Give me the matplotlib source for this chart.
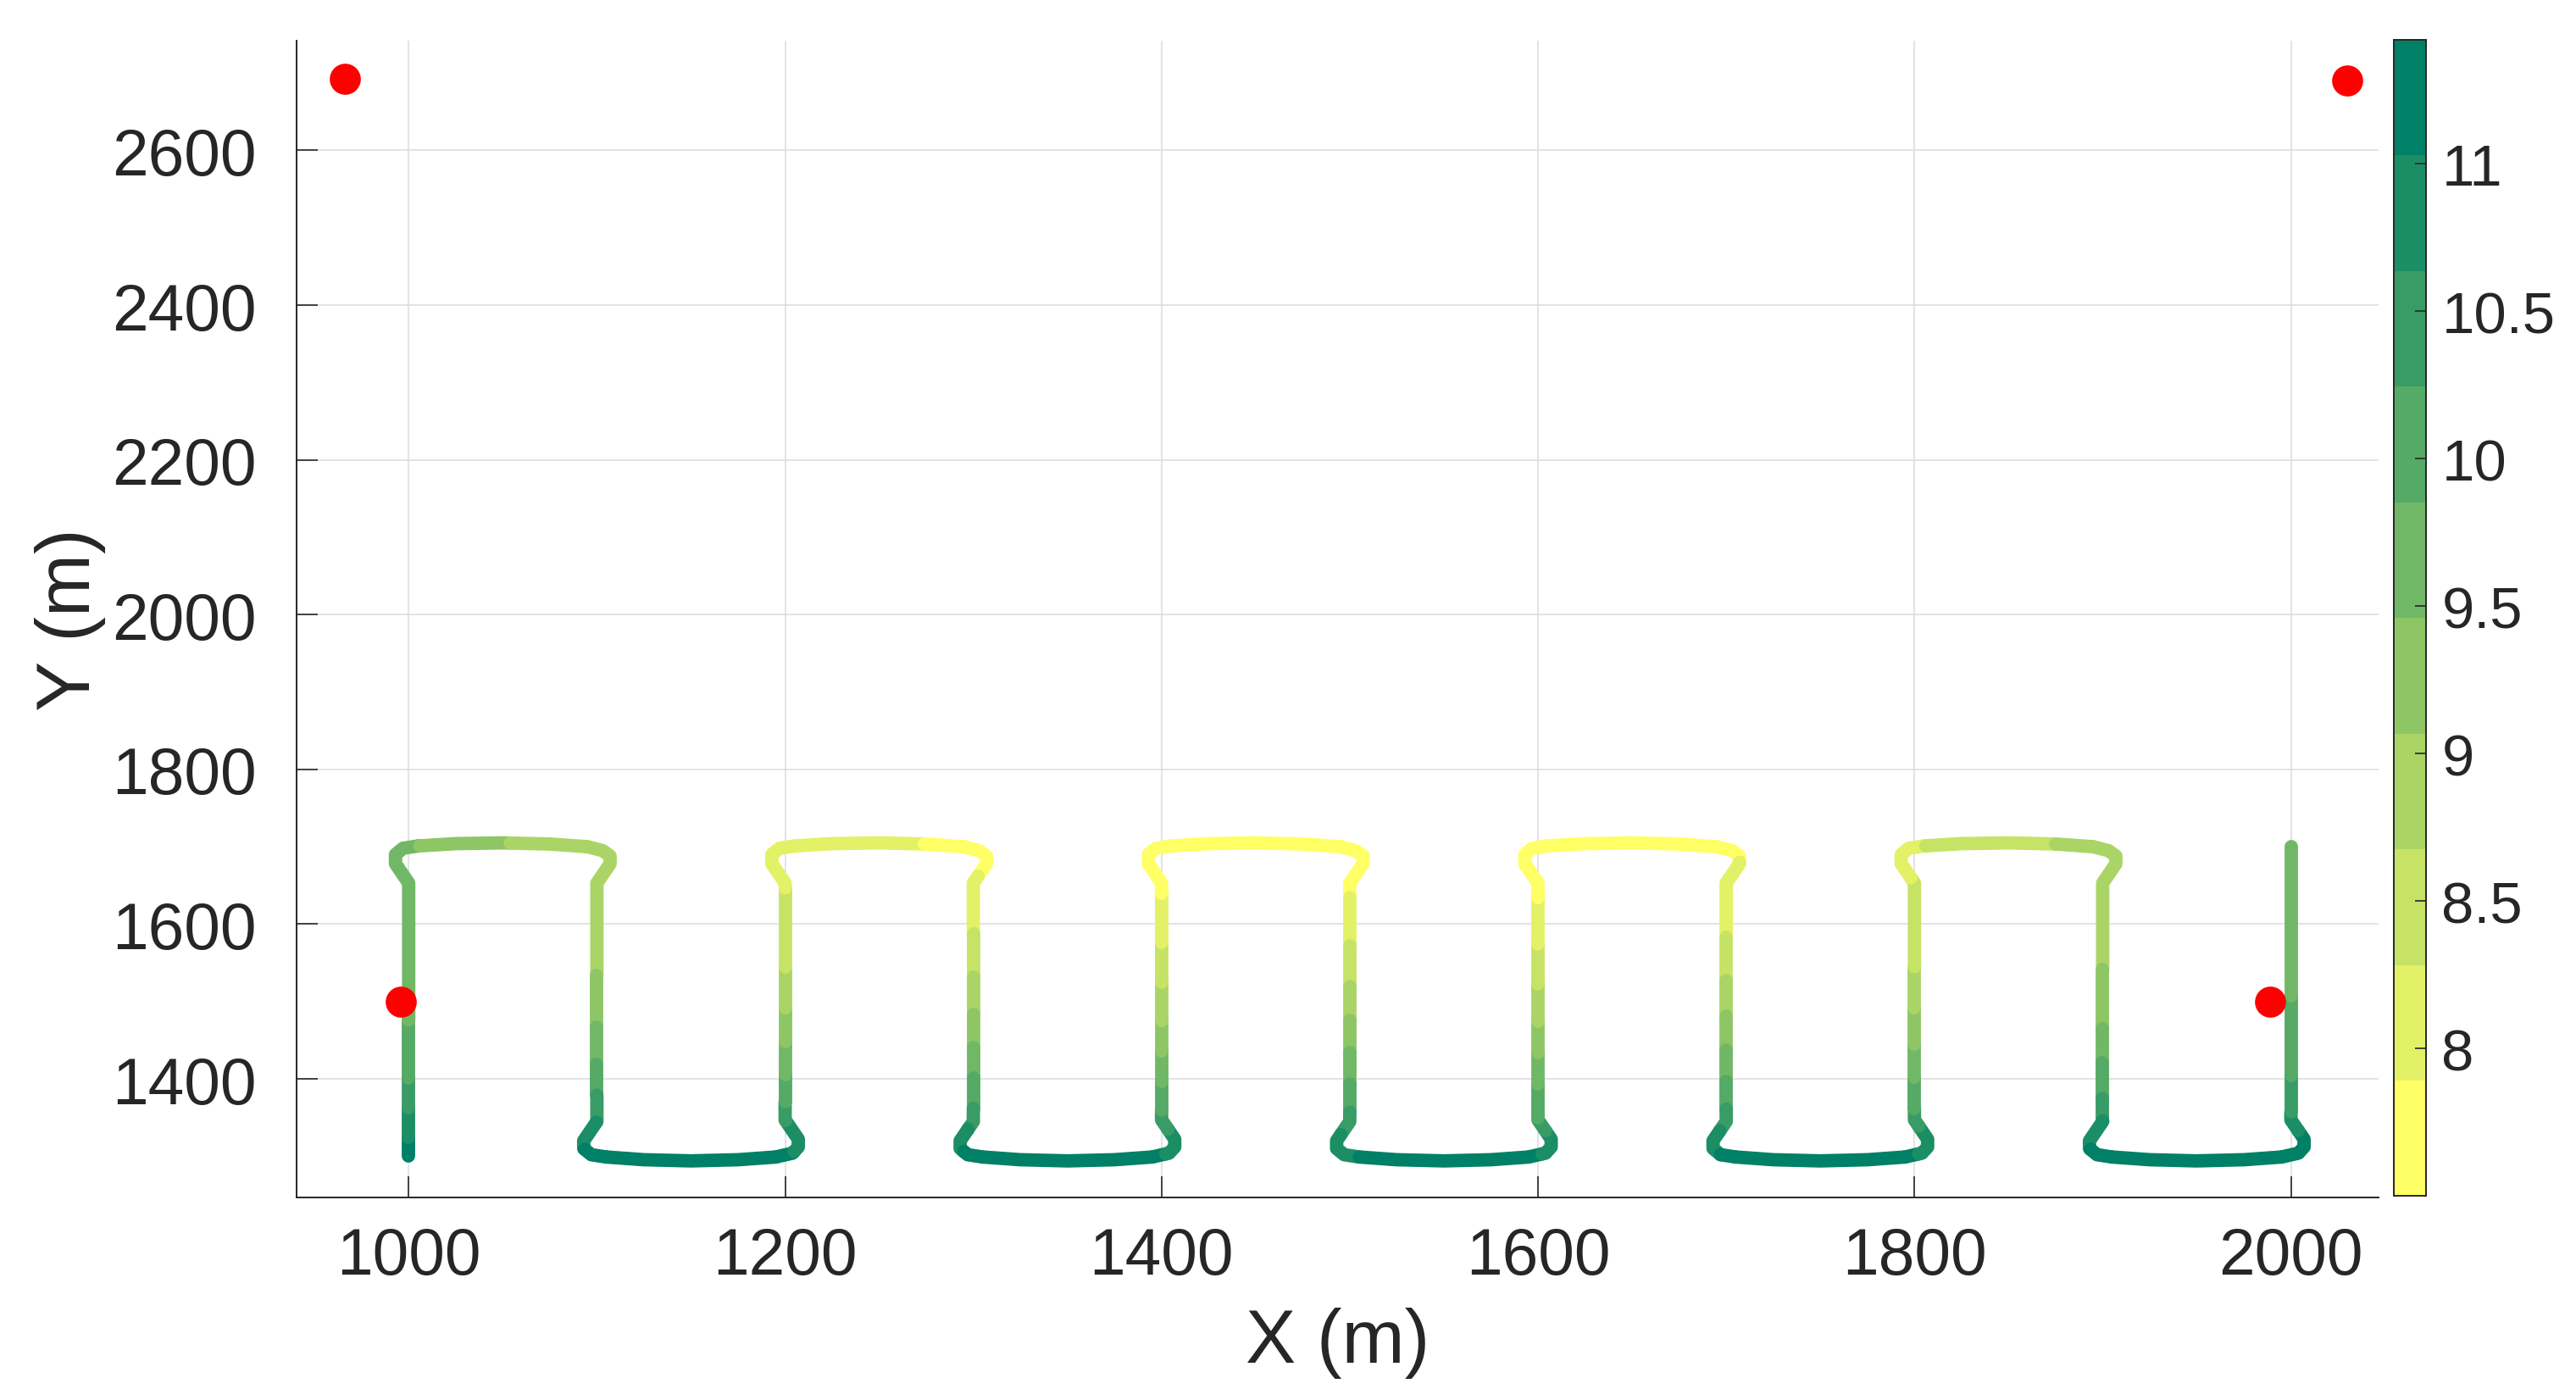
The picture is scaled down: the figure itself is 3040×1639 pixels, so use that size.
import numpy as np
import matplotlib
matplotlib.use("Agg")
import matplotlib.pyplot as plt  # noqa: E402
from matplotlib.colors import BoundaryNorm  # noqa: E402
from matplotlib.cm import ScalarMappable  # noqa: E402
from matplotlib.ticker import FuncFormatter  # noqa: E402

# ---- survey path: legs and turn shape (metres) ----
LEG_X = [1000, 1100, 1200, 1300, 1400, 1500, 1600, 1700, 1800, 1900, 2000]
Y_START, Y_END = 1300, 1700

TOP_IN_DX = [0, -7, -7, -3, 5]
TOP_IN_Y = [1653, 1678, 1690, 1698, 1701]
TOP_FLAT_DX = [5, 25, 50, 75, 95]
TOP_FLAT_Y = [1701, 1704, 1705, 1703.5, 1700]
TOP_OUT_DX = [95, 103, 107, 107, 100]
TOP_OUT_Y = [1700, 1695, 1688, 1678, 1653]

BOT_IN_DX = [0, -7, -7, -3, 5]
BOT_IN_Y = [1345, 1320, 1310, 1302, 1299]
BOT_FLAT_DX = [5, 25, 50, 75, 95]
BOT_FLAT_Y = [1299, 1295.5, 1294, 1295.5, 1299]
BOT_OUT_DX = [95, 104, 107, 107, 100]
BOT_OUT_Y = [1299, 1304, 1312, 1322, 1347]

# value along each leg: y where the value changes, and value of each piece
LEG_BREAKS = [
    [1324, 1363, 1401, 1476],
    [1534, 1467, 1419, 1379, 1344, 1309],
    [1306, 1346, 1370, 1406, 1448, 1492, 1545, 1647],
    [1662, 1587, 1532, 1483, 1441, 1401, 1362, 1335, 1306],
    [1303, 1335, 1359, 1397, 1436, 1476, 1525, 1576, 1640],
    [1634, 1572, 1519, 1476, 1434, 1393, 1357, 1328, 1299],
    [1303, 1333, 1350, 1393, 1434, 1474, 1523, 1574, 1634],
    [1680, 1583, 1527, 1481, 1437, 1397, 1361, 1333, 1302],
    [1303, 1339, 1362, 1402, 1445, 1492, 1545, 1660],
    [1541, 1465, 1421, 1375, 1346, 1309],
    [1333, 1357, 1404, 1507],
]
LEG_VALUES = [
    [11.2, 10.8, 10.45, 10.05, 9.65],
    [8.85, 9.25, 9.65, 10.05, 10.45, 10.8, 11.2],
    [11.2, 10.8, 10.45, 10.05, 9.65, 9.25, 8.85, 8.5, 8.1],
    [7.7, 8.1, 8.5, 8.85, 9.25, 9.65, 10.05, 10.45, 10.8, 11.2],
    [11.2, 10.8, 10.45, 10.05, 9.65, 9.25, 8.85, 8.5, 8.1, 7.7],
    [7.7, 8.1, 8.5, 8.85, 9.25, 9.65, 10.05, 10.45, 10.8, 11.2],
    [11.2, 10.8, 10.45, 10.05, 9.65, 9.25, 8.85, 8.5, 8.1, 7.7],
    [7.7, 8.1, 8.5, 8.85, 9.25, 9.65, 10.05, 10.45, 10.8, 11.2],
    [11.2, 10.8, 10.45, 10.05, 9.65, 9.25, 8.85, 8.5, 8.1],
    [8.85, 9.25, 9.65, 10.05, 10.45, 10.8, 11.2],
    [11.2, 10.8, 10.45, 10.05, 9.65],
]
# value along each turn: x where the value changes
TURN_BREAKS = [[1006, 1054], [], [1274], [], [], [], [], [], [1806, 1875], []]
TURN_VALUES = [[9.65, 9.25, 8.85], [11.2], [8.1, 7.7], [11.2], [7.7],
               [11.2], [7.7], [11.2], [8.1, 8.5, 8.85], [11.2]]

ANCHOR_X = [966, 2030, 996, 1989]
ANCHOR_Y = [2693, 2690, 1500, 1500]

CBAR_TICKS = [8, 8.5, 9, 9.5, 10, 10.5, 11]
VMIN, VMAX = 7.5, 11.42

plt.rcParams["font.family"] = ["Liberation Sans", "DejaVu Sans"]
INK = "#262626"
LW = 5.7

cmap = matplotlib.colormaps["summer_r"].resampled(10)
norm = BoundaryNorm(np.linspace(VMIN, VMAX, 11), 10)


def draw_pieces(ax, xs, ys, ts, breaks, values):
    """Cut a polyline at parameter values `breaks` and colour each piece."""
    xs, ys, ts = (np.asarray(a, dtype=float) for a in (xs, ys, ts))
    s = np.r_[0, np.cumsum(np.hypot(np.diff(xs), np.diff(ys)))]
    sign = 1.0 if ts[-1] > ts[0] else -1.0
    edges = [ts[0], *breaks, ts[-1]]
    for a, b, v in zip(edges[:-1], edges[1:], values):
        sa = np.interp(sign * a, sign * ts, s)
        sb = np.interp(sign * b, sign * ts, s)
        inner = (s > sa) & (s < sb)
        px = np.r_[np.interp(sa, s, xs), xs[inner], np.interp(sb, s, xs)]
        py = np.r_[np.interp(sa, s, ys), ys[inner], np.interp(sb, s, ys)]
        ax.plot(px, py, color=cmap(norm(v)), lw=LW, solid_capstyle="round",
                solid_joinstyle="round", zorder=2)


fig = plt.figure(figsize=(15.2, 8.2), dpi=200)
ax = fig.add_axes([0.1151, 0.1378, 0.8082, 0.8323])

last = len(LEG_X) - 1
for k, x0 in enumerate(LEG_X):
    xs, ys = [], []
    if k % 2 == 0:  # going up
        if k == 0:
            xs, ys = [x0], [Y_START]
        else:
            xs = [LEG_X[k - 1] + d for d in BOT_OUT_DX]
            ys = list(BOT_OUT_Y)
        if k == last:
            xs += [x0]
            ys += [Y_END]
        else:
            xs += [x0 + d for d in TOP_IN_DX]
            ys += TOP_IN_Y
    else:  # going down
        xs = [LEG_X[k - 1] + d for d in TOP_OUT_DX] + [x0 + d for d in BOT_IN_DX]
        ys = list(TOP_OUT_Y) + list(BOT_IN_Y)
    draw_pieces(ax, xs, ys, ys, LEG_BREAKS[k], LEG_VALUES[k])

    if k < last:
        dx, fy = (TOP_FLAT_DX, TOP_FLAT_Y) if k % 2 == 0 else (BOT_FLAT_DX, BOT_FLAT_Y)
        fx = [x0 + d for d in dx]
        draw_pieces(ax, fx, fy, fx, TURN_BREAKS[k], TURN_VALUES[k])

ax.plot(ANCHOR_X, ANCHOR_Y, "o", color="red", ms=13.2, mec="none", zorder=3)

ax.set_xlim(940.4, 2046.5)
ax.set_ylim(1246.7, 2741.7)
ax.set_xticks(range(1000, 2001, 200))
ax.set_yticks(range(1400, 2601, 200))
ax.grid(True, color="#dedede", lw=0.6)
ax.set_axisbelow(True)
for side in ("top", "right"):
    ax.spines[side].set_visible(False)
for side in ("left", "bottom"):
    ax.spines[side].set_color(INK)
    ax.spines[side].set_linewidth(0.7)
ax.tick_params(direction="in", length=9, width=0.6, colors=INK, labelsize=27.6)
ax.tick_params(axis="x", pad=12)
ax.tick_params(axis="y", pad=17)
ax.set_xlabel("X (m)", fontsize=32, color=INK, labelpad=8)
ax.set_ylabel("Y (m)", fontsize=32, color=INK, labelpad=2.5)

cax = fig.add_axes([0.9294, 0.1388, 0.0123, 0.8319])
sm = ScalarMappable(norm=norm, cmap=cmap)
cb = fig.colorbar(sm, cax=cax, ticks=CBAR_TICKS)
cb.minorticks_off()
cb.ax.yaxis.set_major_formatter(FuncFormatter(lambda v, _: f"{v:g}"))
cb.ax.tick_params(direction="in", length=4.7, width=0.6, colors=INK,
                  labelsize=24.8, pad=6.7)
cb.outline.set_linewidth(0.7)
cb.outline.set_edgecolor(INK)

fig.savefig("out.png", dpi=200)
